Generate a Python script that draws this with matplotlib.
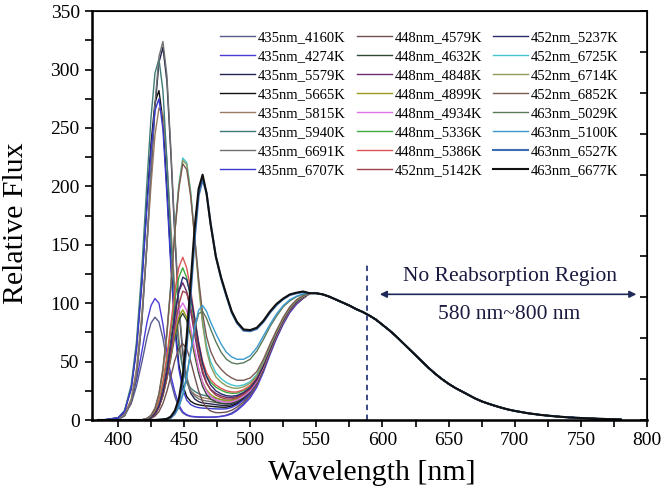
import numpy as np
import matplotlib.pyplot as plt

plt.rcParams['font.family'] = ['Liberation Serif', 'DejaVu Serif']

# ─────────────────────────────────────────────
# Daten
# ─────────────────────────────────────────────
wl = [385, 390, 400, 405, 410, 414, 418, 422, 425, 428, 431, 434, 437, 440, 443, 446,
      449, 452, 455, 458, 461, 464, 467, 470, 474, 478, 482, 486, 490, 495, 500, 505,
      510, 515, 520, 525, 530, 535, 540]

# gemeinsamer langwelliger Teil (alle Kurven liegen aufeinander)
tail_wl = [545, 550, 555, 560, 565, 570, 575, 580, 585, 590, 595, 600, 605, 610, 615,
           620, 625, 630, 635, 640, 645, 650, 655, 660, 665, 670, 675, 680, 685, 690,
           695, 700, 710, 720, 730, 740, 750, 760, 770, 780]
tail_flux = [108.5, 108.5, 107.5, 105.5, 103, 100.5, 98, 95, 92.5, 89.5, 86, 81.5, 77, 72,
             66.5, 61, 55.5, 50, 44.5, 39.5, 35, 31, 27.5, 24.5, 21.5, 18.5, 16, 14, 12.2,
             10.5, 9, 7.8, 5.8, 4.3, 3.2, 2.3, 1.7, 1.2, 0.8, 0.5]

labels_435 = ["435nm_4160K", "435nm_4274K", "435nm_5579K", "435nm_5665K",
              "435nm_5815K", "435nm_5940K", "435nm_6691K", "435nm_6707K"]
flux_435 = [
    [0, 0.3, 2, 5, 14, 29, 49, 71, 83, 88, 84, 70, 50, 33, 20, 11, 6, 4, 3, 2.6,
     2.4, 2.3, 2.3, 2.4, 2.6, 3.2, 4.2, 6, 9, 14, 21, 30, 43, 58, 72, 84, 94, 101, 105],
    [0, 0.3, 2, 6, 16, 34, 58, 84, 98, 104, 100, 82, 58, 38, 24, 13, 7, 4.5, 3.3, 2.9,
     2.7, 2.6, 2.5, 2.5, 2.6, 3, 3.8, 5.2, 8, 13, 19, 28, 41, 56, 70, 82, 92, 99, 104],
    [0, 0, 0.6, 3.5, 15, 38, 83, 151, 211, 267, 306, 319, 290, 228, 157, 96, 57, 34, 23, 18,
     15.7, 14.6, 14.2, 13.8, 13.1, 12.6, 12.4, 13.2, 15, 18.8, 23.8, 32, 44.4, 58.9, 72.4, 84.2, 94, 100.7, 104.6],
    [0, 0, 1.7, 7.6, 27, 62, 118, 188, 237, 272, 282, 256, 199, 136, 83, 48, 30, 20, 16, 14,
     13, 12.4, 12.1, 11.8, 11.3, 11, 11, 12, 14, 18, 23.2, 31.5, 44, 58.6, 72.2, 84, 93.8, 100.6, 104.5],
    [0, 0, 0.9, 4.8, 18, 44, 90, 152, 201, 244, 267, 262, 222, 165, 111, 70, 46, 32, 25, 22,
     20.2, 19.1, 18.5, 17.8, 16.7, 15.8, 15.2, 15.6, 17, 20.4, 25.1, 33, 45.2, 59.6, 72.9, 84.6, 94.3, 101, 104.8],
    [0, 0, 1.8, 8.2, 30, 67, 128, 205, 259, 297, 309, 282, 222, 155, 99, 63, 44, 32.5, 27.3, 24.5,
     22.6, 21.4, 20.6, 19.8, 18.5, 17.4, 16.6, 16.8, 18, 21.2, 25.8, 33.5, 45.6, 59.9, 73.2, 84.8, 94.4, 101.1, 104.9],
    [0, 0, 0.6, 3.5, 15, 38, 84, 153, 214, 271, 311, 324, 295, 232, 161, 100, 60, 37, 25, 20.6,
     18.1, 16.9, 16.3, 15.8, 14.9, 14.2, 13.8, 14.4, 16, 19.6, 24.5, 32.5, 44.8, 59.2, 72.7, 84.4, 94.1, 100.8, 104.7],
    [0, 0, 1.6, 7.4, 26.5, 60, 115, 183, 231, 265, 275, 249, 193, 131, 78, 44, 26, 17, 13.2, 11.5,
     10.6, 10.2, 10, 9.8, 9.5, 9.4, 9.6, 10.8, 13, 17.2, 22.6, 31, 43.6, 58.3, 72, 83.8, 93.6, 100.5, 104.4],
]

labels_448 = ["448nm_4579K", "448nm_4632K", "448nm_4848K", "448nm_4899K",
              "448nm_4934K", "448nm_5336K", "448nm_5386K"]
flux_448 = [
    [0, 0, 0, 0, 0, 0, 0.1, 0.5, 1.3, 3.3, 7.2, 14.1, 24.5, 37.4, 50.9, 61.1, 65.3, 61, 50.4, 37.1,
     24.8, 15.8, 10.4, 7.7, 6.3, 6.3, 6.8, 8.4, 11, 15.6, 21.3, 30, 42.8, 57.6, 71.5, 83.4, 93.3, 100.2, 104.2],
    [0, 0, 0, 0, 0, 0, 0.1, 0.7, 2, 4.9, 10.8, 20.7, 35.2, 53.1, 71.7, 85.5, 91.3, 85.3, 72, 55.4,
     40.1, 28.7, 21.8, 18, 15.4, 14.3, 13.8, 14.4, 16, 19.6, 24.5, 32.5, 44.8, 59.2, 72.7, 84.4, 94.1, 100.8, 104.7],
    [0, 0, 0, 0, 0, 0, 0.1, 0.9, 2.6, 6.5, 14.2, 27.1, 45.7, 68.7, 92.6, 110.1, 117.5, 109.8, 93.3, 72.9,
     54.1, 39.9, 31.4, 26.4, 22.7, 20.7, 19.4, 19.2, 20, 22.8, 27, 34.5, 46.4, 60.5, 73.6, 85.2, 94.8, 101.3, 105.1],
    [0, 0, 0, 0, 0, 0, 0.1, 0.8, 2.1, 5.3, 11.4, 21.8, 36.7, 55.2, 74.3, 88.3, 94.3, 88.1, 75, 58.8,
     43.8, 32.6, 25.8, 21.9, 19, 17.5, 16.6, 16.8, 18, 21.2, 25.8, 33.5, 45.6, 59.9, 73.2, 84.8, 94.4, 101.1, 104.9],
    [0, 0, 0, 0, 0, 0, 0.1, 0.8, 2.2, 5.4, 11.9, 22.8, 38.7, 58.4, 78.8, 93.9, 100.3, 93.7, 79.2, 61,
     44.4, 31.9, 24.5, 20.2, 17.3, 15.9, 15.2, 15.6, 17, 20.4, 25.1, 33, 45.2, 59.6, 72.9, 84.6, 94.3, 101, 104.8],
    [0, 0, 0, 0, 0, 0, 0.1, 1.2, 3, 7.4, 16, 30.5, 51.1, 76.6, 102.9, 122.1, 130.3, 121.7, 104.1, 82.4,
     62.3, 47.3, 38, 32.5, 28.1, 25.5, 23.6, 22.8, 23, 25.2, 29, 36, 47.6, 61.5, 74.4, 85.8, 95.2, 101.7, 105.4],
    [0, 0, 0, 0, 0, 0, 0.1, 1.2, 3.2, 7.9, 17.1, 32.6, 54.7, 81.9, 110, 130.5, 139.3, 130.1, 111.3, 88,
     66.6, 50.5, 40.6, 34.7, 30, 27.1, 25, 24, 24, 26, 29.6, 36.5, 48, 61.8, 74.6, 86, 95.4, 101.8, 105.5],
]

labels_452 = ["452nm_5142K", "452nm_5237K", "452nm_6725K", "452nm_6714K", "452nm_6852K"]
flux_452 = [
    [0, 0, 0, 0, 0, 0, 0.1, 0.7, 1.9, 4.8, 10.7, 21.1, 36.5, 57, 79.8, 98.9, 110.3, 108.5, 96.3, 77.9,
     58.5, 42.7, 32.1, 25.8, 21.3, 19.2, 18, 18, 19, 22, 26.4, 34, 46, 60.2, 73.4, 85, 94.6, 101.2, 105],
    [0, 0, 0, 0, 0, 0, 0.1, 0.8, 2.1, 5.5, 12.1, 23.7, 40.9, 63.6, 88.8, 109.9, 122.3, 120.1, 106.8, 86.7,
     65.8, 48.6, 37, 30.1, 25, 22.4, 20.8, 20.4, 21, 23.6, 27.7, 35, 46.8, 60.8, 73.9, 85.4, 94.9, 101.4, 105.2],
    [0, 0, 0, 0, 0, 0, 0.1, 1.4, 3.8, 9.7, 21.7, 42.7, 74.2, 115.8, 162.2, 201.3, 224.3, 220.3, 195.5, 157.5,
     117.8, 85.2, 63.2, 50.1, 40.4, 35.4, 32, 30, 29, 30, 32.8, 39, 50, 63.4, 75.8, 87, 96.2, 102.4, 106],
    [0, 0, 0, 0, 0, 0, 0.1, 1.3, 3.6, 9.3, 21, 41.6, 72.6, 113.8, 160, 199.1, 222.2, 218.7, 193.6, 155.1,
     114.8, 81.7, 59.6, 46.3, 36.9, 32.3, 29.2, 27.6, 27, 28.4, 31.5, 38, 49.2, 62.8, 75.3, 86.6, 95.9, 102.2, 105.8],
    [0, 0, 0, 0, 0, 0, 0.1, 1.5, 4.1, 10.2, 22.7, 44, 75.1, 115.8, 160.8, 197.8, 219.3, 214.4, 191.3, 156.8,
     120.8, 91.3, 71.3, 59, 49.1, 43.4, 39, 36, 34, 34, 36, 41.5, 52, 65, 77, 88, 97, 103, 106.5],
]

labels_463 = ["463nm_5029K", "463nm_5100K", "463nm_6527K", "463nm_6677K"]
flux_463 = [
    [0, 0, 0, 0, 0, 0, 0, 0, 0, 0, 0.1, 0.3, 0.8, 2, 5, 11, 22, 38, 59, 78,
     91, 93, 87, 78, 67, 58, 52, 49, 48, 49, 52, 59, 69, 80, 89, 97, 102, 105.5, 107.5],
    [0, 0, 0, 0, 0, 0, 0, 0, 0, 0, 0.1, 0.3, 0.8, 2, 5, 11, 21, 37, 58, 79,
     94, 98, 93, 84, 74, 65, 58, 54, 52, 52, 55, 62, 72, 82, 91, 98, 103, 106, 108],
    [0, 0, 0, 0, 0, 0, 0, 0, 0, 0, 0.2, 0.5, 1, 2, 6, 15, 32, 63, 108, 155,
     192, 206, 194, 169, 140, 121, 106, 92, 83, 76.5, 76, 78, 84, 92, 98.5, 103.5, 107, 108.5, 109.5],
    [0, 0, 0, 0, 0, 0, 0, 0, 0, 0, 0.2, 0.5, 1, 3, 8, 18, 38, 72, 118, 165,
     198, 210, 194, 168, 140, 122, 107, 93, 84, 77.5, 77, 79, 85, 93, 99.5, 104, 107.5, 109, 110],
]

# Farben in Legendenreihenfolge
colors = ["#565b8c", "#4b3cd6", "#23244f", "#111111", "#9c7a62", "#3d7a78", "#707070", "#3a3ad0",
          "#6e5050", "#2f4a35", "#6a2a6e", "#9a9a1a", "#e070e8", "#3caa40", "#dd5555",
          "#a0404a", "#2c2c6c", "#44c4cc", "#8c9a5a", "#7a5a52",
          "#5a7a5a", "#3a9ad0", "#3a6eb0", "#111111"]

labels = labels_435 + labels_448 + labels_452 + labels_463
rows = flux_435 + flux_448 + flux_452 + flux_463

# ─────────────────────────────────────────────
# Plot
# ─────────────────────────────────────────────
fig = plt.figure(figsize=(6.66, 4.95), dpi=100)
ax = fig.add_axes([0.1374, 0.1515, 0.834, 0.826])

x_all = np.concatenate([wl, tail_wl])
for lab, row, col in zip(labels, rows, colors):
    y_all = np.concatenate([row, tail_flux])
    lw = 1.5 if lab in ("463nm_6677K", "463nm_6527K") else 1.0
    ax.plot(x_all, y_all, color=col, lw=lw, label=lab)

ax.set_xlim(380, 800)
ax.set_ylim(0, 350)

# Grenze der Reabsorption
ax.plot([588, 588], [0, 135], color="#2b3a7a", lw=1.3, ls=(0, (3, 2.5)))
ax.annotate("", xy=(792, 107.6), xytext=(598, 107.6),
            arrowprops=dict(arrowstyle="<|-|>", color="#1f2a5a", lw=1.2,
                            mutation_scale=10, shrinkA=0, shrinkB=0))
ax.text(696.6, 122.7, "No Reabsorption Region", ha="center", va="center",
        fontsize=15.5, color="#1a1a40")
ax.text(695.5, 89.9, "580 nm~800 nm", ha="center", va="center",
        fontsize=15.5, color="#1a1a40")

ax.set_xticks(np.arange(400, 801, 50))
ax.set_xticks(np.arange(400, 800, 25), minor=True)
ax.set_yticks(np.arange(0, 351, 50))
ax.set_yticks(np.arange(0, 350, 25), minor=True)
ax.tick_params(axis="both", which="both", direction="out", labelsize=14, width=1.2)
ax.tick_params(axis="both", which="major", length=5)
ax.tick_params(axis="both", which="minor", length=5)
ax.tick_params(top=False, right=False)

for side in ["left", "bottom"]:
    ax.spines[side].set_linewidth(1.8)
for side in ["top", "right"]:
    ax.spines[side].set_linewidth(1.2)

ax2 = ax.twinx()
ax2.set_ylim(0, 350)
ax2.set_yticks(np.arange(0, 351, 35))
ax2.tick_params(axis="y", direction="in", length=5, width=1.2, labelright=False)

fig.text(0.5586, 0.045, "Wavelength [nm]", ha="center", va="center", fontsize=21.5)
fig.text(0.024, 0.55, "Relative Flux", ha="center", va="center", rotation=90, fontsize=21.5)

ax.legend(ncol=3, loc="upper left", bbox_to_anchor=(0.330, 0.937),
          bbox_transform=fig.transFigure, frameon=False, fontsize=10.5,
          handlelength=2.4, handletextpad=0.2, columnspacing=0.75,
          labelspacing=0.39, borderpad=0, borderaxespad=0)

fig.savefig("out.png", dpi=100)
